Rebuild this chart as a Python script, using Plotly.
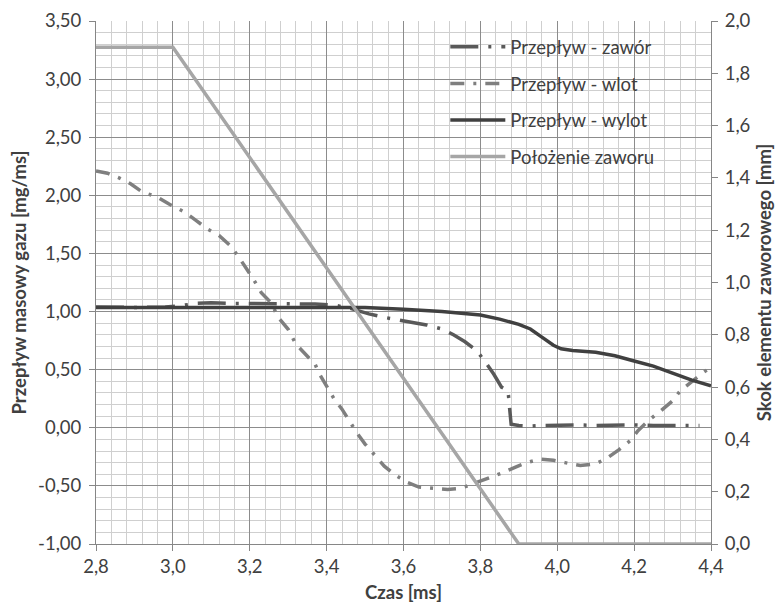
import plotly.graph_objects as go

# ---- data ----
zawor_x = [2.80, 2.90, 2.98, 3.02, 3.06, 3.10, 3.15, 3.20, 3.25, 3.30, 3.37, 3.42, 3.46, 3.49, 3.51,
           3.55, 3.59, 3.63, 3.66, 3.70, 3.73, 3.76, 3.79, 3.81, 3.835, 3.855, 3.865, 3.872, 3.876,
           3.88, 3.90, 3.93, 3.96, 4.00, 4.05, 4.10, 4.15, 4.20, 4.25, 4.30, 4.37]
zawor_y = [1.04, 1.035, 1.04, 1.05, 1.07, 1.075, 1.07, 1.07, 1.065, 1.065, 1.065, 1.055, 1.03, 1.00, 0.98,
           0.95, 0.925, 0.905, 0.885, 0.85, 0.80, 0.74, 0.665, 0.58, 0.46, 0.35, 0.33, 0.32, 0.17,
           0.03, 0.02, 0.015, 0.02, 0.025, 0.025, 0.02, 0.025, 0.025, 0.02, 0.02, 0.02]

wlot_x = [2.80, 2.83, 2.86, 2.89, 2.92, 2.96, 2.99, 3.03, 3.06, 3.09, 3.12, 3.15, 3.17, 3.19, 3.21,
          3.23, 3.26, 3.27, 3.30, 3.32, 3.34, 3.37, 3.38, 3.40, 3.42, 3.44, 3.46, 3.48, 3.50, 3.525,
          3.55, 3.58, 3.61, 3.64, 3.68, 3.715, 3.75, 3.79, 3.82, 3.855, 3.89, 3.92, 3.955, 3.99,
          4.02, 4.06, 4.10, 4.13, 4.16, 4.19, 4.21, 4.24, 4.27, 4.30, 4.32, 4.35, 4.38, 4.40]
wlot_y = [2.21, 2.19, 2.15, 2.10, 2.03, 1.985, 1.925, 1.857, 1.785, 1.71, 1.655, 1.565, 1.476, 1.38, 1.276,
          1.162, 1.06, 0.965, 0.847, 0.719, 0.648, 0.547, 0.47, 0.36, 0.246, 0.16, 0.05, -0.05, -0.14, -0.24,
          -0.33, -0.41, -0.47, -0.51, -0.52, -0.53, -0.52, -0.47, -0.44, -0.39, -0.34, -0.30, -0.27, -0.28,
          -0.30, -0.325, -0.31, -0.26, -0.19, -0.11, -0.025, 0.07, 0.147, 0.232, 0.318, 0.40, 0.476, 0.52]

wylot_x = [2.80, 3.00, 3.20, 3.40, 3.50, 3.60, 3.70, 3.80, 3.85, 3.90, 3.93, 3.96, 3.99, 4.01, 4.04,
           4.10, 4.15, 4.20, 4.25, 4.30, 4.35, 4.40]
wylot_y = [1.035, 1.035, 1.035, 1.04, 1.035, 1.02, 1.00, 0.97, 0.935, 0.89, 0.85, 0.78, 0.71, 0.68, 0.665,
           0.65, 0.62, 0.575, 0.53, 0.47, 0.41, 0.36]

zawor_pos_x = [2.80, 3.00, 3.90, 4.40]
zawor_pos_y = [1.90, 1.90, 0.00, 0.00]

x_ticks = [2.8, 3.0, 3.2, 3.4, 3.6, 3.8, 4.0, 4.2, 4.4]
x_ticktext = ["2,8", "3,0", "3,2", "3,4", "3,6", "3,8", "4,0", "4,2", "4,4"]
y_ticks = [-1.0, -0.5, 0.0, 0.5, 1.0, 1.5, 2.0, 2.5, 3.0, 3.5]
y_ticktext = ["-1,00", "-0,50", "0,00", "0,50", "1,00", "1,50", "2,00", "2,50", "3,00", "3,50"]
y2_ticks = [0.0, 0.2, 0.4, 0.6, 0.8, 1.0, 1.2, 1.4, 1.6, 1.8, 2.0]
y2_ticktext = ["0,0", "0,2", "0,4", "0,6", "0,8", "1,0", "1,2", "1,4", "1,6", "1,8", "2,0"]

names = ["Przepływ - zawór", "Przepływ - wlot", "Przepływ - wylot", "Położenie zaworu"]

FONT = "Lato"
TXT = "#404040"
TICK = 18.5
TITLE = 18.5

fig = go.Figure()
fig.add_trace(go.Scatter(x=zawor_x, y=zawor_y, name=names[0], mode="lines", legendgroup="a",
                         line=dict(color="#595959", width=3.5, dash="28px,10px,3px,10px")))
fig.add_trace(go.Scatter(x=wlot_x, y=wlot_y, name=names[1], mode="lines", legendgroup="b",
                         line=dict(color="#7f7f7f", width=3.5, dash="14px,9px,3px,9px")))
fig.add_trace(go.Scatter(x=wylot_x, y=wylot_y, name=names[2], mode="lines", legendgroup="c",
                         line=dict(color="#404040", width=3.5)))
fig.add_trace(go.Scatter(x=zawor_pos_x, y=zawor_pos_y, name=names[3], mode="lines", legendgroup="d",
                         yaxis="y2", line=dict(color="#a6a6a6", width=3.5)))

fig.update_layout(
    width=783, height=603,
    margin=dict(l=96, r=72, t=21, b=59),
    paper_bgcolor="white", plot_bgcolor="white",
    font=dict(family=FONT, size=TICK, color=TXT),
    showlegend=True,
    legend=dict(x=0.568, y=0.986, xanchor="left", yanchor="top", bgcolor="rgba(0,0,0,0)",
                font=dict(family=FONT, size=18.5, color=TXT), tracegroupgap=9.5,
                traceorder="grouped", itemwidth=55),
    xaxis=dict(range=[2.8, 4.4], tickmode="array", tickvals=x_ticks, ticktext=x_ticktext,
               showgrid=True, gridcolor="#8c8c8c", gridwidth=1,
               minor=dict(tickmode="linear", tick0=2.8, dtick=0.04, showgrid=True,
                          gridcolor="#cfcfcf", gridwidth=1),
               showline=True, linecolor="#868686", linewidth=1,
               ticks="outside", ticklen=6, tickcolor="#868686",
               zeroline=False, automargin=False,
               title=dict(text="<b>Czas [ms]</b>", font=dict(family=FONT, size=TITLE, color=TXT), standoff=15),
               tickfont=dict(family=FONT, size=TICK, color=TXT)),
    yaxis=dict(range=[-1.0, 3.5], tickmode="array", tickvals=y_ticks, ticktext=y_ticktext,
               showgrid=True, gridcolor="#8c8c8c", gridwidth=1,
               minor=dict(tickmode="linear", tick0=-1.0, dtick=0.1, showgrid=True,
                          gridcolor="#cfcfcf", gridwidth=1),
               showline=True, linecolor="#868686", linewidth=1,
               ticks="outside", ticklen=6, tickcolor="#868686",
               ticklabelstandoff=4,
               zeroline=False, automargin=False,
               title=dict(text="<b>Przepływ masowy gazu [mg/ms]</b>",
                          font=dict(family=FONT, size=TITLE, color=TXT), standoff=6),
               tickfont=dict(family=FONT, size=TICK, color=TXT)),
    yaxis2=dict(range=[0.0, 2.0], overlaying="y", side="right", tickmode="array",
                tickvals=y2_ticks, ticktext=y2_ticktext, showgrid=False, zeroline=False,
                showline=True, linecolor="#868686", linewidth=1,
                ticks="outside", ticklen=6, tickcolor="#868686",
                ticklabelstandoff=3, automargin=False,
                title=dict(text="<b>Skok elementu zaworowego [mm]</b>",
                           font=dict(family=FONT, size=TITLE, color=TXT), standoff=8),
                tickfont=dict(family=FONT, size=TICK, color=TXT)),
    shapes=[dict(type="rect", xref="paper", yref="paper", x0=0.516, x1=0.974, y0=0.702, y1=0.988,
                 fillcolor="white", line=dict(width=0), layer="between")],
)

fig.write_html("out.html")
